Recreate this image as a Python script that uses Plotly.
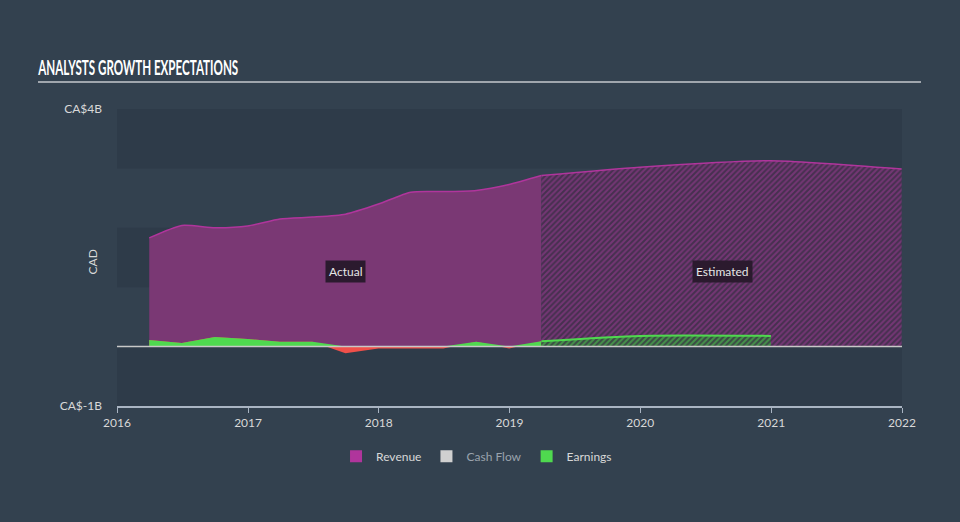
import plotly.graph_objects as go

# ---- data (CAD billions) ----
rev_actual_dates = ["2016-03-31", "2016-06-30", "2016-09-30", "2016-12-31", "2017-03-31", "2017-06-30",
                    "2017-09-30", "2017-12-31", "2018-03-31", "2018-06-30", "2018-09-30", "2018-12-31",
                    "2019-03-31"]
rev_actual = [1.83, 2.04, 2.00, 2.03, 2.15, 2.18, 2.23, 2.40, 2.60, 2.61, 2.63, 2.73, 2.88]
earn_actual = [0.11, 0.06, 0.16, 0.13, 0.08, 0.08, -0.11, -0.03, -0.03, -0.03, 0.08, -0.03, 0.09]

rev_est_dates = ["2019-03-31", "2019-12-31", "2020-12-31", "2021-12-31"]
rev_est = [2.88, 3.02, 3.13, 2.99]
earn_est_dates = ["2019-03-31", "2019-12-31", "2020-12-31"]
earn_est = [0.09, 0.18, 0.18]

y_tick_vals = [4, -1]
y_tick_text = ["CA$4B", "CA$-1B"]
x_tick_vals = ["2016-01-01", "2017-01-01", "2018-01-01", "2019-01-01", "2020-01-01", "2021-01-01", "2022-01-01"]
x_tick_text = ["2016", "2017", "2018", "2019", "2020", "2021", "2022"]

MAG = "#b0359c"
MAG_FILL = "#7a3874"
GREEN = "#4fd94f"
RED = "#f0504a"
BG = "#33414f"
BAND = "#2e3b49"
FONT = "Lato, Noto Sans, sans-serif"

L, R, T, B = 117, 58, 109, 116
PW, PH = 960 - L - R, 522 - T - B


def px_x(p):
    return (p - L) / PW


def px_y(p):
    return 1 - (p - T) / PH


fig = go.Figure()

# horizontal bands
for lo, hi in [(3, 4), (1, 2), (-1, 0)]:
    fig.add_shape(type="rect", xref="paper", yref="y", x0=0, x1=1, y0=lo, y1=hi,
                  fillcolor=BAND, line_width=0, layer="below")

# revenue actual
fig.add_trace(go.Scatter(x=rev_actual_dates, y=rev_actual, mode="lines", fill="tozeroy",
                         fillcolor=MAG_FILL, line=dict(color=MAG, width=1.5, shape="spline", smoothing=0.6),
                         showlegend=False, hoverinfo="skip"))
# revenue estimated (hatched)
fig.add_trace(go.Scatter(x=rev_est_dates, y=rev_est, mode="lines", fill="tozeroy",
                         fillcolor="#4a3050",
                         fillpattern=dict(shape="/", fgcolor="#a23c9a", bgcolor="#46304f", size=4, solidity=0.5),
                         line=dict(color=MAG, width=1.5, shape="spline", smoothing=0.6),
                         showlegend=False, hoverinfo="skip"))

# earnings actual: red underneath, green positive part on top
fig.add_trace(go.Scatter(x=rev_actual_dates, y=earn_actual, mode="lines", fill="tozeroy",
                         fillcolor=RED, line=dict(color=RED, width=0),
                         showlegend=False, hoverinfo="skip"))
fig.add_trace(go.Scatter(x=rev_actual_dates, y=[max(v, 0) for v in earn_actual], mode="lines",
                         fill="tozeroy", fillcolor=GREEN, line=dict(color=GREEN, width=0),
                         showlegend=False, hoverinfo="skip"))
# earnings estimated (hatched)
fig.add_trace(go.Scatter(x=earn_est_dates, y=earn_est, mode="lines", fill="tozeroy",
                         fillcolor="#2f6a3a",
                         fillpattern=dict(shape="/", fgcolor="#4fd94f", bgcolor="#3a4a44", size=4, solidity=0.5),
                         line=dict(color=GREEN, width=2, shape="spline", smoothing=0.6),
                         showlegend=False, hoverinfo="skip"))

# legend-only entries
for name, col in [("Revenue", "#b0359c"), ("<span style='color:#9aa3ad'>Cash Flow</span>", "#d0d0d0"),
                  ("Earnings", GREEN)]:
    fig.add_trace(go.Scatter(x=[None], y=[None], mode="markers", name=name,
                             marker=dict(symbol="square", size=15, color=col)))

# zero line
fig.add_shape(type="line", xref="paper", yref="y", x0=0, x1=1, y0=0, y1=0,
              line=dict(color="#c8c8c8", width=1.5))

# title and underline
fig.add_annotation(text="ANALYSTS GROWTH EXPECTATIONS", xref="paper", yref="paper",
                   x=px_x(137.5), y=px_y(67), xanchor="center", yanchor="middle",
                   showarrow=False, font=dict(family="Lato, sans-serif", size=20, weight="bold", color="#ffffff"))
fig.add_shape(type="line", xref="paper", yref="paper", x0=px_x(38), x1=px_x(921),
              y0=px_y(82), y1=px_y(82), line=dict(color="#a0a6ad", width=2))

# y axis title
fig.add_annotation(text="CAD", xref="paper", yref="paper", x=px_x(82), y=px_y(262), textangle=-90,
                   showarrow=False, font=dict(family=FONT, size=12, color="#d8d8d8"))

# Actual / Estimated labels
for txt, xv in [("Actual", "2017-09-30"), ("Estimated", "2020-08-19")]:
    fig.add_annotation(text=txt, x=xv, y=1.27, xref="x", yref="y", showarrow=False,
                       bgcolor="#2b1a2e", font=dict(family=FONT, size=12, color="#e6e6e6"), borderpad=3)

fig.update_layout(
    width=960, height=522,
    paper_bgcolor=BG, plot_bgcolor=BG,
    margin=dict(l=L, r=R, t=T, b=B),
    font=dict(family=FONT, color="#cfd3d8", size=12),
    showlegend=True,
    legend=dict(orientation="h", x=0.458, xanchor="center", y=-0.12, yanchor="top",
                font=dict(family=FONT, size=12, color="#d8d8d8"), itemsizing="constant"),
    xaxis=dict(range=["2016-01-01", "2022-01-01"], tickvals=x_tick_vals, ticktext=x_tick_text,
               showgrid=False, zeroline=False, showline=True, linecolor="#a9b4c2", linewidth=1.5,
               ticks="outside", tickcolor="#a9b4c2", ticklen=5, tickfont=dict(color="#d8d8d8", size=12)),
    yaxis=dict(range=[-1, 4], tickvals=y_tick_vals, ticktext=y_tick_text, showgrid=False, zeroline=False,
               showline=False, ticks="", ticklabelstandoff=14, tickfont=dict(color="#d8d8d8", size=12)),
)

post = """
document.body.style.margin='0';document.body.style.padding='0';
function squeezeTitle(){
  document.querySelectorAll('text.annotation-text').forEach(function(t){
    if(t.textContent.indexOf('ANALYSTS')===0){
      t.setAttribute('textLength','200');
      t.setAttribute('lengthAdjust','spacingAndGlyphs');
    }
  });
}
squeezeTitle(); setTimeout(squeezeTitle,50); setTimeout(squeezeTitle,300);
"""

fig.write_html("out.html", post_script=post, config={"displayModeBar": False})
